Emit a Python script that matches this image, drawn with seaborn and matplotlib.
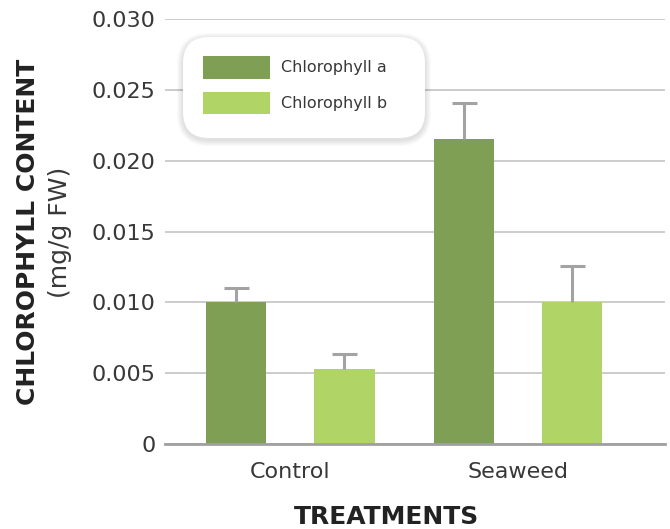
import matplotlib
matplotlib.use("Agg")
import matplotlib.pyplot as plt
from matplotlib.patches import FancyBboxPatch
from matplotlib.transforms import IdentityTransform
import seaborn as sns
import pandas as pd
import numpy as np

# values
treatments = ['Control', 'Seaweed']
pigments = ['Chlorophyll a', 'Chlorophyll b']
chl_a = [0.0100, 0.0215]
chl_b = [0.0053, 0.0100]
err_a = [0.0010, 0.0026]
err_b = [0.00105, 0.0026]
colors = ['#7e9f54', '#b1d467']

df = pd.DataFrame({
    'treatment': treatments * 2,
    'pigment': [pigments[0]] * 2 + [pigments[1]] * 2,
    'value': chl_a + chl_b,
    'err': err_a + err_b,
})

sns.set_style('white')
plt.rcParams['font.family'] = ['DejaVu Sans']
text_col = '#383838'

W, H = 670, 529
fig, ax = plt.subplots(figsize=(6.7, 5.29), dpi=100)
fig.subplots_adjust(left=165 / W, right=665 / W, top=1 - 19 / H, bottom=1 - 444 / H)

ax.yaxis.grid(True, color='#c4c4c4', linewidth=1.2)
ax.set_axisbelow(True)

sns.barplot(data=df, x='treatment', y='value', hue='pigment',
            palette=colors, saturation=1, width=0.95, gap=0.44,
            errorbar=None, linewidth=0, ax=ax, zorder=2, legend=True)

# custom error bars (upper only)
for cont, grp in zip(ax.containers, pigments):
    sub = df[df['pigment'] == grp]
    xs = [p.get_x() + p.get_width() / 2 for p in cont]
    eb = ax.errorbar(xs, sub['value'], yerr=[np.zeros(len(sub)), sub['err']],
                     fmt='none', ecolor='#a3a3a3', elinewidth=2.2,
                     capsize=9, capthick=2.2, zorder=3)
    eb[1][0].set_visible(False)

ax.set_ylim(0, 0.030)
ax.set_xlim(-0.55, 1.645)
ax.set_yticks(np.arange(0, 0.0301, 0.005))
ax.set_yticklabels(['0', '0.005', '0.010', '0.015', '0.020', '0.025', '0.030'])

for s in ['top', 'right', 'left']:
    ax.spines[s].set_visible(False)
ax.spines['bottom'].set_color('#a0a0a0')
ax.spines['bottom'].set_linewidth(2)
ax.spines['bottom'].set_zorder(4)

ax.tick_params(axis='y', length=0, labelsize=16, pad=7, labelcolor=text_col)
ax.tick_params(axis='x', length=11, width=1.8, color='#a0a0a0',
               labelsize=16, pad=2, labelcolor=text_col)

ax.set_xlabel('')
ax.set_ylabel('')
fig.text(387 / W, 1 - 524 / H, 'TREATMENTS', ha='center', va='baseline',
         fontsize=18, fontweight='bold', color='#222222')
fig.text(28 / W, 1 - 232 / H, 'CHLOROPHYLL CONTENT', rotation=90, ha='center',
         va='center', fontsize=18, fontweight='bold', color='#222222')
fig.text(60 / W, 1 - 232 / H, '(mg/g FW)', rotation=90, ha='center',
         va='center', fontsize=18, color=text_col)

# legend card with soft shadow (pixel coordinates)
bx, by, bw, bh = 183, H - 138, 242, 101
for k in range(6, 0, -1):
    sh = FancyBboxPatch((bx - k, by - k - 2), bw + 2 * k, bh + 2 * k,
                        boxstyle=f'round,pad=0,rounding_size={26 + k}',
                        transform=IdentityTransform(), facecolor='#000000',
                        edgecolor='none', alpha=0.018, zorder=5)
    fig.add_artist(sh)
card = FancyBboxPatch((bx, by), bw, bh,
                      boxstyle='round,pad=0,rounding_size=26',
                      transform=IdentityTransform(), facecolor='white',
                      edgecolor='none', zorder=6)
fig.add_artist(card)

old = ax.get_legend()
handles = old.legend_handles
labels = [t.get_text() for t in old.get_texts()]
old.remove()

leg = fig.legend(handles, labels, loc='upper left',
                 bbox_to_anchor=(203 / W, 1 - 56 / H),
                 fontsize=11.5, frameon=False, borderpad=0, borderaxespad=0,
                 handlelength=4.2, handleheight=1.8, handletextpad=0.7,
                 labelspacing=0.82)
leg.set_zorder(7)
for t in leg.get_texts():
    t.set_color(text_col)

fig.savefig('out.png', dpi=100)
